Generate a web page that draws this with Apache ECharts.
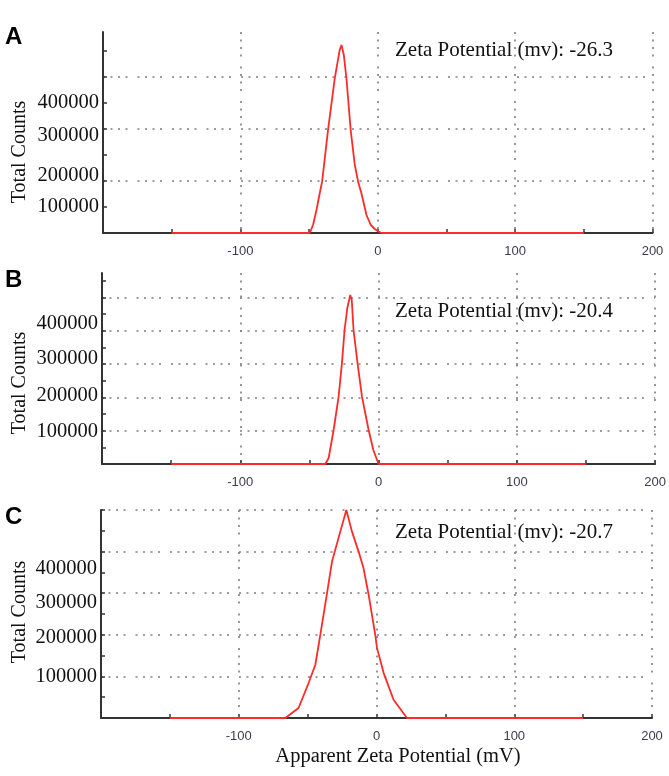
<!DOCTYPE html>
<html><head><meta charset="utf-8">
<script src="https://cdn.jsdelivr.net/npm/echarts@6/dist/echarts.min.js"></script>
<style>html,body{margin:0;padding:0;background:#fff}#c{width:669px;height:776px}</style>
</head><body><div id="c"></div>
<script>
// ---- Panel A ----
const xA = [-150, -49.5, -47.1, -44.6, -42.2, -40.5, -36.2, -31.3, -27.7, -26.4, -24.7, -22.8, -19.7, -16.7, -14.3, -11.9, -8.2, -5.1, -2.2, 0, 2.7, 150];
const yA = [0, 0, 15400, 44200, 76900, 98700, 198000, 297500, 352000, 361500, 342300, 297500, 198000, 130800, 98700, 76300, 34600, 15400, 7700, 3800, 0, 0];
// ---- Panel B ----
const xB = [-150, -38.5, -36.1, -32.5, -28.9, -26.5, -24.6, -22.6, -20.5, -19.4, -18.1, -15.2, -12.0, -7.2, -3.8, 0, 150];
const yB = [0, 0, 18000, 102000, 202000, 302000, 402000, 468000, 507000, 492000, 402000, 302000, 202000, 102000, 42000, 0, 0];
// ---- Panel C ----
const xC = [-150, -66.2, -56.6, -49.3, -44.4, -40.8, -35.9, -32.3, -26.3, -21.9, -17.8, -13.0, -9.4, -5.7, -0.9, 0.4, 5.2, 12.4, 22.1, 150];
const yC = [0, 0, 24000, 84000, 128000, 200000, 300000, 376000, 448000, 500000, 448000, 400000, 360000, 296000, 200000, 168000, 108000, 44000, 0, 0];

// axis ticks and labels (label positions as they sit in the picture)
const xTickValues = [-200, -150, -100, -50, 0, 50, 100, 150, 200];
const xLabelValues = [-100, 0, 100, 200];
const yTickValuesA = [0, 50000, 100000, 150000, 200000, 250000, 300000, 350000];
const yTickValuesB = [0, 50000, 100000, 150000, 200000, 250000, 300000, 350000, 400000, 450000, 500000, 550000];
const yTickValuesC = [0, 50000, 100000, 150000, 200000, 250000, 300000, 350000, 400000, 450000, 500000];
const yLabelPosA = [50000, 110000, 188000, 250000];
const yLabelPosB = [97000, 205000, 316000, 421000];
const yLabelPosC = [100000, 193000, 277000, 360000];
const yLabelText = ['100000', '200000', '300000', '400000'];
const yMaxA = 386500, yMaxB = 573000, yMaxC = 500000;

const panelLetters = ['A', 'B', 'C'];
const zetaTexts = ['Zeta Potential (mv): -26.3', 'Zeta Potential (mv): -20.4', 'Zeta Potential (mv): -20.7'];
const yTitle = 'Total Counts';
const xTitle = 'Apparent Zeta Potential (mV)';

const RED = '#ff2b2b';
const AXIS = '#333';
const GRIDC = '#7d7d7d';
const DOTS = [2, 5.5, 2, 5.5, 2, 5.5, 2, 10];

const panels = [
  { x: xA, y: yA, max: yMaxA, ticks: yTickValuesA, lp: yLabelPosA, topLine: false,
    grid: { left: 103, top: 32, width: 549.5, height: 201 }, letterY: 37, zetaY: 50, titleY: 152 },
  { x: xB, y: yB, max: yMaxB, ticks: yTickValuesB, lp: yLabelPosB, topLine: false,
    grid: { left: 102, top: 273, width: 554, height: 191 }, letterY: 280, zetaY: 311.5, titleY: 383 },
  { x: xC, y: yC, max: yMaxC, ticks: yTickValuesC, lp: yLabelPosC, topLine: true,
    grid: { left: 101, top: 510, width: 551, height: 208 }, letterY: 517, zetaY: 532, titleY: 612 }
];

const grid = [], xAxis = [], yAxis = [], series = [], graphic = [];
panels.forEach((p, i) => {
  grid.push(Object.assign({ containLabel: false }, p.grid));
  xAxis.push({
    type: 'value', gridIndex: i, min: -200, max: 200, interval: 50,
    axisLine: { show: true, onZero: false, lineStyle: { color: AXIS, width: 2 } },
    axisTick: { show: true, inside: true, length: 4, customValues: xTickValues, lineStyle: { color: AXIS, width: 1.5 } },
    axisLabel: { show: true, customValues: xLabelValues, margin: 12, fontFamily: 'Liberation Sans', fontSize: 13, color: '#3b3b4d' },
    splitLine: { show: false }
  });
  xAxis.push({
    type: 'value', gridIndex: i, min: -200, max: 200, interval: 100, position: 'top',
    axisLine: { show: false }, axisTick: { show: false }, axisLabel: { show: false },
    splitLine: { show: true, showMinLine: false, lineStyle: { color: GRIDC, width: 1.6, type: DOTS } }
  });
  yAxis.push({
    type: 'value', gridIndex: i, min: 0, max: p.max, interval: 50000,
    axisLine: { show: true, onZero: false, lineStyle: { color: AXIS, width: 2 } },
    axisTick: { show: true, inside: true, length: 4, customValues: p.ticks, lineStyle: { color: AXIS, width: 1.5 } },
    axisLabel: {
      show: true, customValues: p.lp, margin: 4,
      formatter: v => { const k = p.lp.indexOf(v); return k >= 0 ? yLabelText[k] : ''; },
      fontFamily: 'Liberation Serif', fontSize: 20.5, color: '#111'
    },
    splitLine: { show: false }
  });
  yAxis.push({
    type: 'value', gridIndex: i, min: 0, max: p.max, interval: 100000, position: 'right',
    axisLine: { show: false }, axisTick: { show: false }, axisLabel: { show: false },
    splitLine: { show: true, showMinLine: false, showMaxLine: p.topLine, lineStyle: { color: GRIDC, width: 1.6, type: DOTS } }
  });
  series.push({
    type: 'line', xAxisIndex: 2 * i, yAxisIndex: 2 * i,
    data: p.x.map((v, k) => [v, p.y[k]]),
    showSymbol: false, symbol: 'none', silent: true, z: 5,
    lineStyle: { color: RED, width: 1.8 }, itemStyle: { color: RED }
  });
  graphic.push({ type: 'text', x: 5, y: p.letterY, style: { text: panelLetters[i], font: 'bold 24px "Liberation Sans"', fill: '#000', align: 'left', verticalAlign: 'middle' } });
  graphic.push({ type: 'text', x: 395, y: p.zetaY, style: { text: zetaTexts[i], font: '21px "Liberation Serif"', fill: '#111', align: 'left', verticalAlign: 'middle' } });
  graphic.push({ type: 'text', x: 20, y: p.titleY, rotation: Math.PI / 2, style: { text: yTitle, font: '20px "Liberation Serif"', fill: '#111', align: 'center', verticalAlign: 'middle' } });
});
graphic.push({ type: 'text', x: 398, y: 757, style: { text: xTitle, font: '20.5px "Liberation Serif"', fill: '#111', align: 'center', verticalAlign: 'middle' } });

const chart = echarts.init(document.getElementById('c'), null, { renderer: 'canvas' });
chart.setOption({
  animation: false,
  backgroundColor: '#fff',
  grid, xAxis, yAxis, series, graphic
});
</script>
</body></html>
